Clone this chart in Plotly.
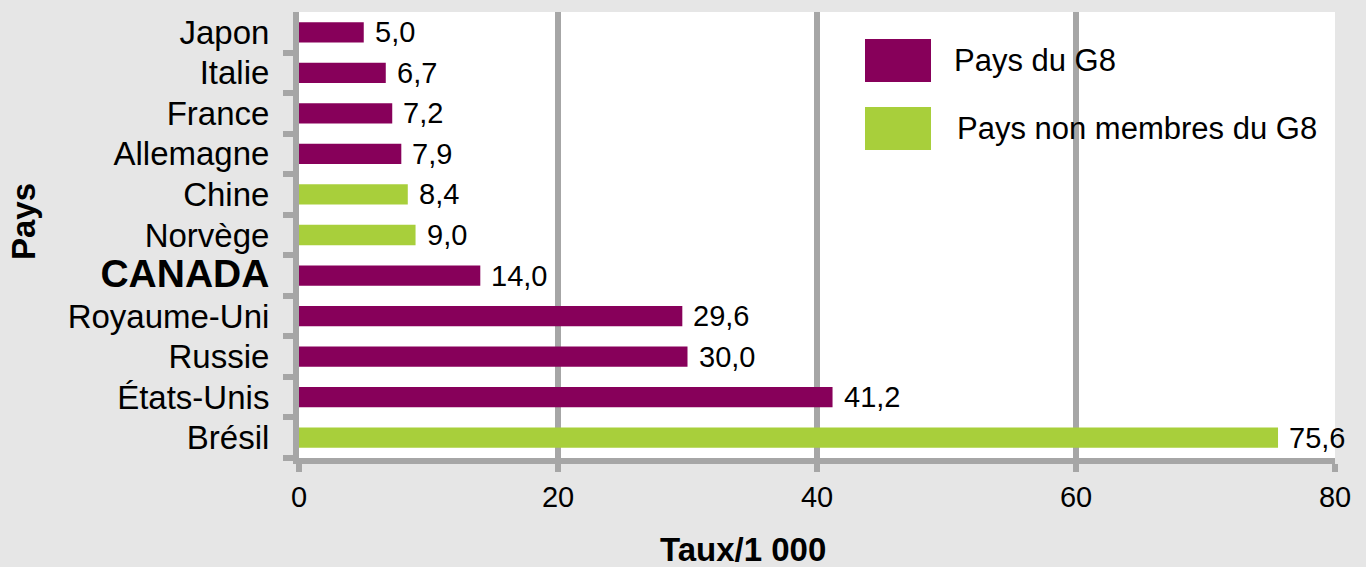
import plotly.graph_objects as go

countries = ["Japon", "Italie", "France", "Allemagne", "Chine", "Norvège",
             "CANADA", "Royaume-Uni", "Russie", "États-Unis", "Brésil"]
values = [5.0, 6.7, 7.2, 7.9, 8.4, 9.0, 14.0, 29.6, 30.0, 41.2, 75.6]
groups = ["G8", "G8", "G8", "G8", "Non", "Non", "G8", "G8", "G8", "G8", "Non"]
tick_labels = ["Japon", "Italie", "France", "Allemagne", "Chine", "Norvège",
               "<b><span style='font-size:39px'>CANADA</span></b>",
               "Royaume-Uni", "Russie", "États-Unis", "Brésil"]
x_ticks = [0, 20, 40, 60, 80]
series_names = {"G8": "Pays du G8", "Non": "Pays non membres du G8"}
colors = {"G8": "#87005a", "Non": "#a8cf3b"}

FONT = "Liberation Sans, Arial, Helvetica, sans-serif"
GRID = "#a6a6a6"

W, H = 1366, 567
L, R, T, B = 299, 31, 12, 109
PW, PH = W - L - R, H - T - B


def px(x):
    return (x - L) / PW


def py(y):
    return (H - B - y) / PH


fig = go.Figure()
for g in ["G8", "Non"]:
    ys = [c for c, gg in zip(countries, groups) if gg == g]
    xs = [v for v, gg in zip(values, groups) if gg == g]
    fig.add_trace(go.Bar(x=xs, y=ys, orientation="h", name=series_names[g],
                         marker=dict(color=colors[g], line=dict(width=0)),
                         showlegend=False, hoverinfo="x+y"))

annotations = []
for c, v in zip(countries, values):
    annotations.append(dict(x=v, y=c, xref="x", yref="y", xanchor="left",
                            yanchor="middle", xshift=9, showarrow=False,
                            text=f"{v:.1f}".replace(".", ","),
                            font=dict(family=FONT, size=29, color="#000")))

# axis titles
annotations.append(dict(x=px(743), y=py(549), xref="paper", yref="paper",
                        xanchor="center", yanchor="middle", showarrow=False,
                        text="<b>Taux/1 000</b>",
                        font=dict(family=FONT, size=33, color="#000")))
annotations.append(dict(x=px(23), y=py(222), xref="paper", yref="paper",
                        xanchor="center", yanchor="middle", showarrow=False,
                        textangle=-90, text="<b>Pays</b>",
                        font=dict(family=FONT, size=33, color="#000")))

# custom legend
shapes = []
legend_items = [("G8", 39, 82, 952), ("Non", 107, 150, 955)]
for g, y0, y1, tx in legend_items:
    shapes.append(dict(type="rect", xref="paper", yref="paper",
                       x0=px(865), x1=px(931), y0=py(y1), y1=py(y0),
                       fillcolor=colors[g], line=dict(width=0), layer="above"))
    annotations.append(dict(x=px(tx), y=py((y0 + y1) / 2), xref="paper", yref="paper",
                            xanchor="left", yanchor="middle", showarrow=False,
                            text=series_names[g],
                            font=dict(family=FONT, size=31, color="#000")))

fig.update_layout(
    width=W, height=H,
    margin=dict(l=L, r=R, t=T, b=B, autoexpand=False),
    paper_bgcolor="#e6e6e6",
    plot_bgcolor="#ffffff",
    barmode="overlay",
    bargap=0.5,
    showlegend=False,
    annotations=annotations,
    shapes=shapes,
    font=dict(family=FONT, size=29, color="#000"),
)
fig.update_xaxes(range=[0, 80], tickvals=x_ticks, ticktext=[str(t) for t in x_ticks],
                 showgrid=True, gridcolor=GRID, gridwidth=6,
                 showline=True, linecolor=GRID, linewidth=6,
                 ticks="outside", ticklen=8, tickwidth=6, tickcolor=GRID,
                 tickfont=dict(family=FONT, size=29, color="#000"),
                 zeroline=False, automargin=False)
fig.update_yaxes(categoryorder="array", categoryarray=countries[::-1],
                 tickvals=countries, ticktext=tick_labels,
                 showgrid=False, showline=True, linecolor=GRID, linewidth=6,
                 ticks="outside", ticklen=10, tickwidth=6, tickcolor=GRID,
                 tickson="boundaries", ticklabelstandoff=17,
                 tickfont=dict(family=FONT, size=33, color="#000"),
                 zeroline=False, automargin=False)

fig.write_html("out.html")
